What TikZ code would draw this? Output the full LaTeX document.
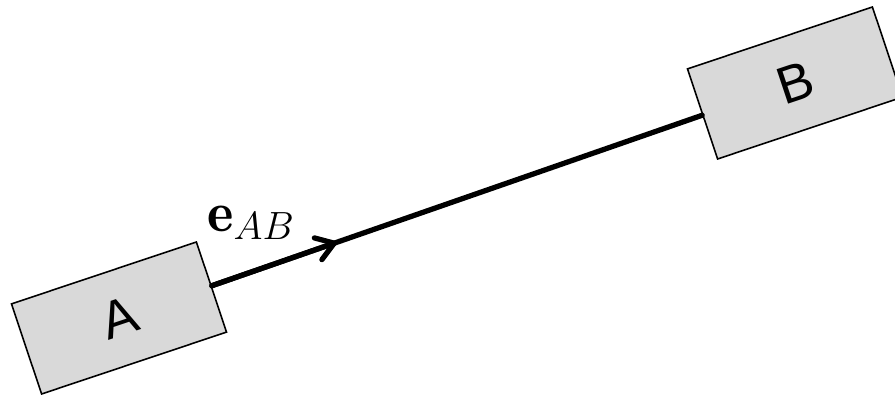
\RequirePackage{fix-cm}
\documentclass[tikz,border=0pt]{standalone}
\usepackage{fontspec}
\setsansfont{Liberation Sans}
\usepackage{amsmath}
\usetikzlibrary{arrows.meta, calc}

\begin{document}
\begin{tikzpicture}[x=0.2mm, y=-0.2mm,
  body/.style={draw, fill=black!15, line width=0.9pt, rotate=18.5,
    minimum width=39mm, minimum height=19mm, inner sep=0pt,
    font=\sffamily\fontsize{30}{36}\selectfont},
  link/.style={line width=3pt, line cap=round}]
  \useasboundingbox (0,0) rectangle (895,395);
  % --- the two bodies ---
  \node[body] (A) at (119,318) {A};
  \node[body] (B) at (795,83) {B};
  % --- link and unit vector ---
  \draw[link] (A) -- (B);
  \coordinate (tip) at ($(A)!0.322!(B)$);
  \draw[link, -{Straight Barb[length=3.4mm, width=4.6mm, round]}] (A) -- (tip);
  \node[font=\fontsize{32}{38}\selectfont] (eAB) at (251,223) {$\mathbf{e}_{AB}$};
\end{tikzpicture}
\end{document}
